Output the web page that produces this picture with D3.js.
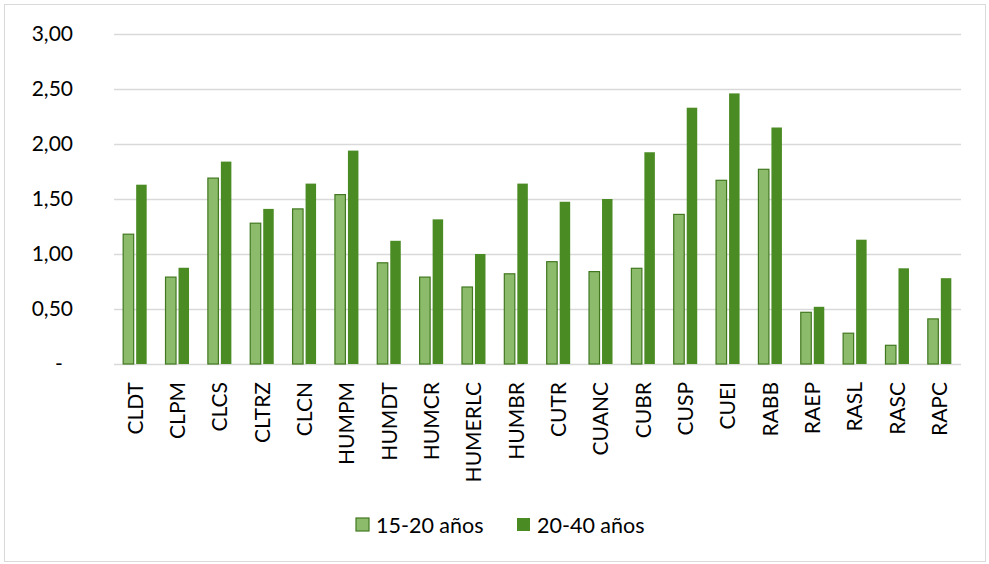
<!DOCTYPE html>
<html><head><meta charset="utf-8">
<script src="https://cdn.jsdelivr.net/npm/d3@7"></script>
<style>body{margin:0;background:#fff}svg{display:block}text{font-family:Lato,"Open Sans",sans-serif;fill:#000}</style>
</head><body><svg id="c" width="989" height="564"></svg>
<script>
const categories = ["CLDT","CLPM","CLCS","CLTRZ","CLCN","HUMPM","HUMDT","HUMCR","HUMERLC","HUMBR","CUTR","CUANC","CUBR","CUSP","CUEI","RABB","RAEP","RASL","RASC","RAPC"];
const series1 = [1.18,0.79,1.69,1.28,1.41,1.54,0.92,0.79,0.70,0.82,0.93,0.84,0.87,1.36,1.67,1.77,0.47,0.28,0.17,0.41];
const series2 = [1.63,0.875,1.84,1.41,1.64,1.94,1.12,1.315,1.00,1.64,1.475,1.50,1.925,2.33,2.46,2.15,0.52,1.13,0.87,0.78];
const seriesNames = ["15-20 años","20-40 años"];
const yTicks = [0,0.5,1,1.5,2,2.5,3];

const svg = d3.select("#c");
svg.append("rect").attr("x",4.5).attr("y",4.5).attr("width",981).attr("height",557).attr("fill","#fff").attr("stroke","#d9d9d9");
const x = d3.scaleBand().domain(categories).range([114,961]);
const y = d3.scaleLinear().domain([0,3]).range([364,34]);
const fmt = v => v===0 ? "-" : d3.format(".2f")(v).replace(".",",");

svg.append("g").selectAll("line").data(yTicks).join("line")
  .attr("x1",114).attr("x2",961).attr("y1",d=>y(d)+0.5).attr("y2",d=>y(d)+0.5)
  .attr("stroke","#d9d9d9").attr("stroke-width",1.3);

svg.append("g").selectAll("text").data(yTicks).join("text")
  .attr("x",d=>d===0?59:73).attr("y",d=>y(d)).attr("dy","0.35em")
  .attr("text-anchor",d=>d===0?"middle":"end").attr("font-size",21).text(fmt);

const bw = 10.5;
svg.append("g").selectAll("rect").data(series1).join("rect")
  .attr("x",(d,i)=>x(categories[i])+x.bandwidth()/2-bw-1.5).attr("width",bw)
  .attr("y",d=>y(d)).attr("height",d=>y(0)-y(d))
  .attr("fill","#8dbb6c").attr("stroke","#41781f").attr("stroke-width",1.2);
svg.append("g").selectAll("rect").data(series2).join("rect")
  .attr("x",(d,i)=>x(categories[i])+x.bandwidth()/2+1).attr("width",bw)
  .attr("y",d=>y(d)).attr("height",d=>y(0)-y(d))
  .attr("fill","#4b8b24");

svg.append("g").selectAll("text").data(categories).join("text")
  .attr("transform",d=>`translate(${x(d)+x.bandwidth()/2},382) rotate(-90)`)
  .attr("dy","0.35em").attr("text-anchor","end").attr("font-size",21).text(d=>d);

const leg = [{n:seriesNames[0],x:356,fill:"#8dbb6c",stroke:"#41781f"},{n:seriesNames[1],x:517,fill:"#4b8b24",stroke:"none"}];
const lg = svg.append("g");
lg.selectAll("rect").data(leg).join("rect").attr("x",d=>d.x).attr("y",518).attr("width",13).attr("height",13)
  .attr("fill",d=>d.fill).attr("stroke",d=>d.stroke).attr("stroke-width",1.2);
lg.selectAll("text").data(leg).join("text").attr("x",d=>d.x+20).attr("y",525).attr("dy","0.35em")
  .attr("font-size",21.5).text(d=>d.n);
</script></body></html>
